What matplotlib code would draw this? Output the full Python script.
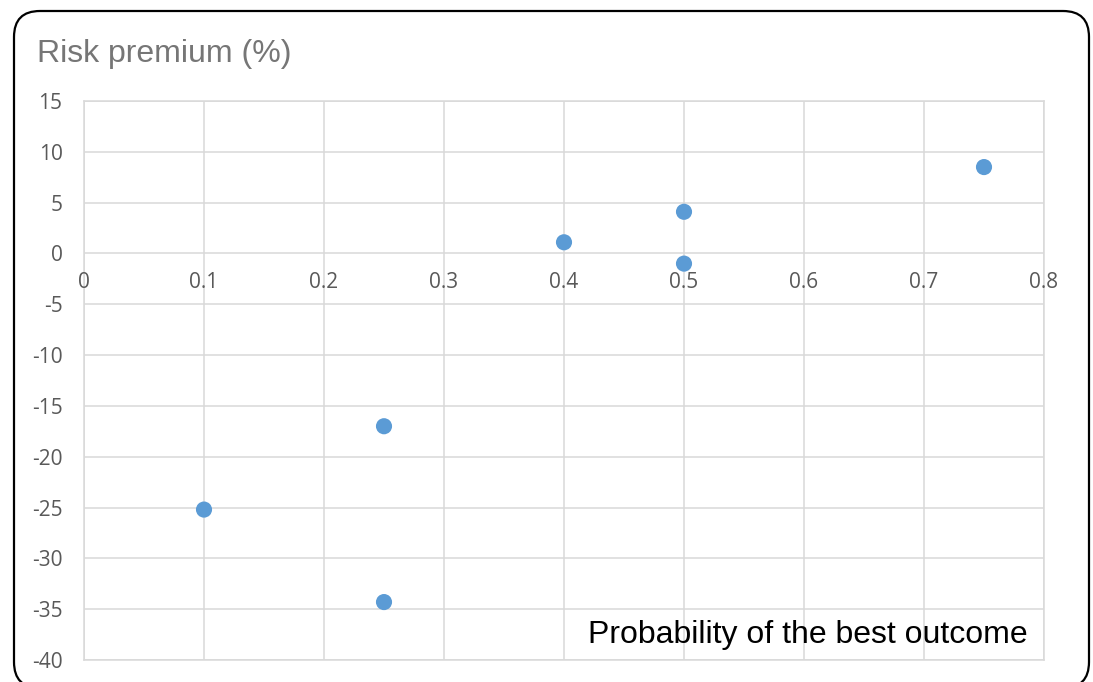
import matplotlib
matplotlib.use("Agg")
import matplotlib.pyplot as plt
from matplotlib.patches import FancyBboxPatch
import matplotlib.transforms as mtransforms

# Data: probability of the best outcome vs. risk premium (%)
probability = [0.10, 0.25, 0.25, 0.40, 0.50, 0.50, 0.75]
risk_premium = [-25.2, -17.0, -34.3, 1.1, 4.1, -1.0, 8.5]

x_ticks = [0, 0.1, 0.2, 0.3, 0.4, 0.5, 0.6, 0.7, 0.8]
x_tick_labels = ["0", "0.1", "0.2", "0.3", "0.4", "0.5", "0.6", "0.7", "0.8"]
y_ticks = [15, 10, 5, 0, -5, -10, -15, -20, -25, -30, -35, -40]

W, H = 1093, 682
fig = plt.figure(figsize=(W / 100, H / 100), dpi=100)
fig.patch.set_facecolor("white")

# Rounded outer frame, laid out in pixel units
frame = FancyBboxPatch((14, -6), 1075, H - 11 + 6,
                       boxstyle="round,pad=0,rounding_size=26",
                       transform=mtransforms.IdentityTransform(),
                       facecolor="none", edgecolor="black", linewidth=1.6)
fig.patches.append(frame)

left, right, top, bottom = 84, 1044, 101, 660
ax = fig.add_axes([left / W, (H - bottom) / H, (right - left) / W, (bottom - top) / H])

grid_color = "#D9D9D9"
tick_color = "#595959"
tick_font = "Open Sans"
tick_size = 15

ax.set_xlim(0, 0.8)
ax.set_ylim(-40, 15)
ax.set_xticks(x_ticks)
ax.set_yticks(y_ticks)
ax.grid(True, color=grid_color, linewidth=1.1)
ax.set_axisbelow(True)
for s in ax.spines.values():
    s.set_color(grid_color)
    s.set_linewidth(1.1)
ax.tick_params(length=0)
ax.set_xticklabels([])
ax.set_yticklabels([str(v) for v in y_ticks], fontsize=tick_size, color=tick_color,
                   family=tick_font)
ax.tick_params(axis="y", pad=15.5)

# X tick labels sit just below the y = 0 line
offset = mtransforms.offset_copy(ax.transData, fig=fig, x=0, y=-29, units="dots")
for xv, lab in zip(x_ticks, x_tick_labels):
    ax.text(xv, 0, lab, transform=offset, ha="center", va="center",
            fontsize=tick_size, color=tick_color, family=tick_font, clip_on=False)

ax.scatter(probability, risk_premium, s=135, color="#5B9BD5", zorder=3,
           edgecolors="none", clip_on=False)

fig.text(37 / W, 1 - 62 / H, "Risk premium (%)", fontsize=23, color="#767676",
         family="Liberation Sans", ha="left", va="baseline")
fig.text(1028 / W, 1 - 643 / H, "Probability of the best outcome",
         fontsize=23, color="black", family="Liberation Sans",
         ha="right", va="baseline")

fig.savefig("out.png", dpi=100)
